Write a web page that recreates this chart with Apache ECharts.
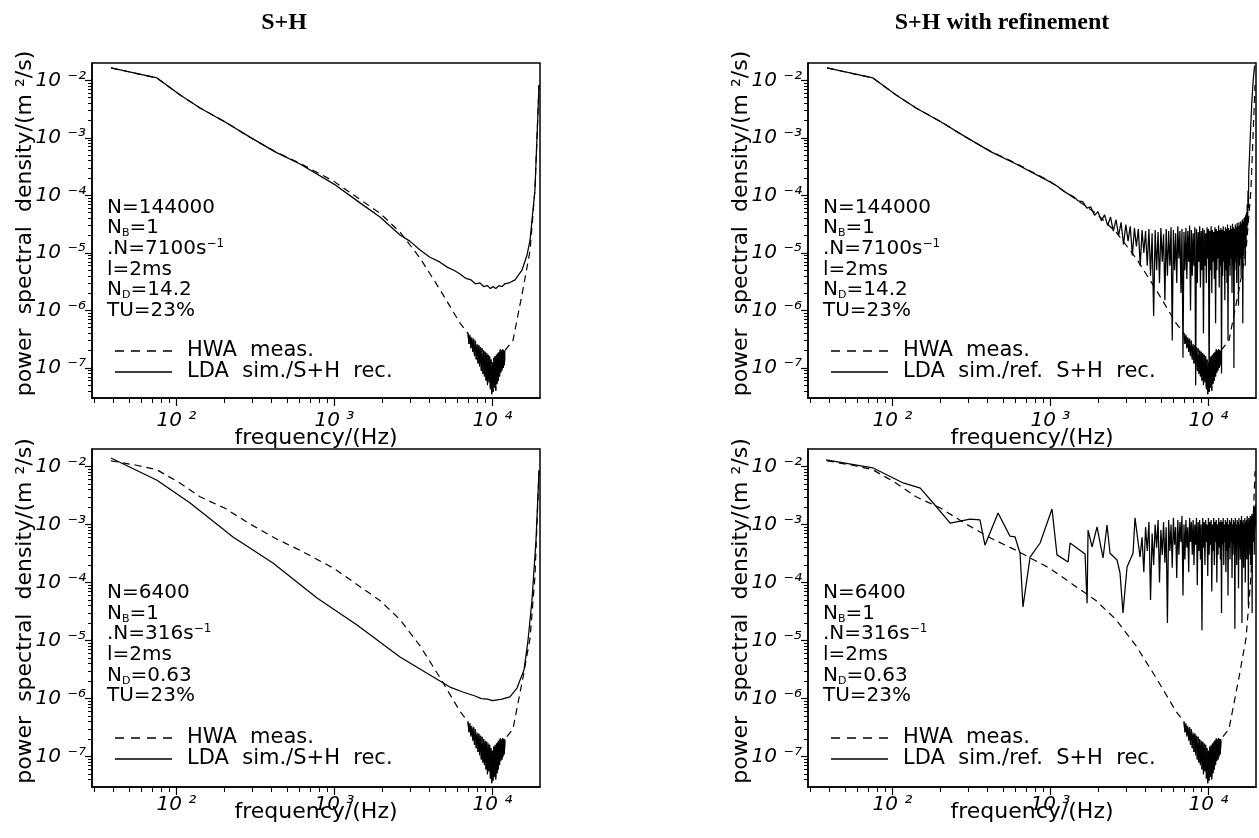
<!DOCTYPE html>
<html>
<head>
<meta charset="utf-8">
<title>S+H power spectra</title>
<script src="https://cdn.jsdelivr.net/npm/echarts@6.0.0/dist/echarts.min.js"></script>
<style>
  html, body { margin: 0; padding: 0; background: #fff; }
  #chart { width: 1259px; height: 838px; }
</style>
</head>
<body>
<div id="chart"></div>
<script>
// axis ranges (Hz, m^2/s)
var xMinHz = 29.2, xMaxHz = 20000;
var yMinPsd = 3e-8, yMaxPsd = 2e-2;
var xTickValues = [100, 1000, 10000];
var xTickLabels = ['10 ²', '10 ³', '10 ⁴'];
var yTickValues = [1e-2, 1e-3, 1e-4, 1e-5, 1e-6, 1e-7];
var yTickLabels = ['10 ⁻²', '10 ⁻³', '10 ⁻⁴', '10 ⁻⁵', '10 ⁻⁶', '10 ⁻⁷'];

// HWA measurement [Hz, m^2/s], dashed in every panel
var hwaTopStart = [[38.5, 1.64e-2], [56, 1.31e-2], [75, 1.1e-2], [105, 5.6e-3], [141, 3.3e-3], [203, 1.9e-3]];
var hwaBotStart = [[38.5, 1.25e-2], [56, 1.05e-2], [75, 8.8e-3], [105, 5.2e-3], [141, 3.0e-3], [203, 1.9e-3]];
var hwaMid = [[292, 1.02e-3], [421, 5.8e-4], [605, 3.6e-4], [993, 1.75e-4], [1452, 8.5e-5], [1941, 4.9e-5],
  [2600, 2.3e-5], [3483, 8.1e-6], [4656, 2.3e-6], [6237, 6.0e-7]];
var hwaTrough = [[7000, 4.0e-7], [7100, 2.6e-7], [7200, 3.8e-7], [7300, 2.2e-7], [7400, 3.4e-7], [7500, 1.9e-7],
  [7600, 3.2e-7], [7700, 1.6e-7], [7800, 3.0e-7], [7900, 1.4e-7], [8000, 2.6e-7], [8100, 1.2e-7], [8200, 2.5e-7],
  [8300, 1.05e-7], [8400, 2.3e-7], [8500, 8.9e-8], [8600, 2.2e-7], [8700, 7.9e-8], [8800, 2.0e-7], [8900, 7.1e-8],
  [9000, 1.9e-7], [9100, 6.0e-8], [9200, 1.8e-7], [9300, 5.0e-8], [9400, 1.7e-7], [9500, 5.6e-8], [9600, 1.6e-7],
  [9700, 4.2e-8], [9800, 1.4e-7], [9900, 3.5e-8], [10000, 1.26e-7], [10100, 3.8e-8], [10200, 1.5e-7], [10300, 4.5e-8],
  [10400, 1.6e-7], [10500, 4.0e-8], [10600, 1.7e-7], [10700, 5.2e-8], [10800, 1.8e-7], [10900, 6.0e-8], [11000, 1.9e-7],
  [11100, 7.1e-8], [11200, 2.1e-7], [11300, 8.3e-8], [11400, 2.0e-7], [11500, 8.9e-8], [11600, 2.1e-7], [11700, 1.0e-7],
  [11800, 2.0e-7], [11900, 1.1e-7], [12000, 2.0e-7]];
var hwaHigh = [[13490, 3.0e-7], [15600, 2.3e-6], [17300, 1.1e-5], [18580, 1.25e-4], [19720, 8.3e-3]];

// LDA sim. / S+H reconstruction, N=144000
var tlLda = [[38.5, 1.64e-2], [75.3, 1.1e-2], [105, 5.6e-3], [141, 3.3e-3], [203, 1.88e-3], [292, 1.03e-3],
  [421, 5.7e-4], [605, 3.5e-4], [993, 1.57e-4], [1452, 7.4e-5], [1941, 4.2e-5], [2600, 2.05e-5], [3000, 1.6e-5],
  [3483, 1.12e-5], [4000, 8.5e-6], [4656, 6.9e-6], [5200, 5.6e-6], [5700, 5.0e-6], [6237, 4.3e-6], [6800, 3.6e-6],
  [7300, 3.4e-6], [7800, 2.9e-6], [8337, 3.0e-6], [8800, 2.6e-6], [9300, 2.7e-6], [9700, 2.4e-6], [10090, 2.6e-6],
  [10500, 2.4e-6], [11000, 2.7e-6], [11500, 2.6e-6], [12000, 2.9e-6], [12700, 3.0e-6], [13900, 3.4e-6],
  [15380, 5.0e-6], [16560, 9.2e-6], [17300, 1.67e-5], [18580, 1.24e-4], [19720, 8.3e-3]];

// LDA sim. / refined S+H reconstruction, N=144000
var trLda = [[38.5, 1.64e-2], [75.3, 1.1e-2], [105, 5.6e-3], [141, 3.3e-3], [203, 1.88e-3], [292, 1.03e-3],
  [421, 5.7e-4], [605, 3.5e-4], [1000, 1.7e-4], [1100, 1.45e-4], [1200, 1.2e-4], [1300, 1.05e-4], [1400, 9.5e-5],
  [1500, 8.0e-5], [1600, 7.8e-5], [1700, 6.0e-5], [1800, 6.3e-5], [1900, 4.5e-5], [2000, 5.2e-5], [2100, 3.6e-5],
  [2200, 4.6e-5], [2300, 3.0e-5], [2400, 4.2e-5], [2500, 2.4e-5], [2600, 3.8e-5], [2700, 2.0e-5], [2800, 3.4e-5],
  [2900, 1.4e-5], [3000, 3.1e-5], [3100, 1.6e-5], [3200, 2.9e-5], [3300, 9e-6], [3400, 2.7e-5], [3500, 1.3e-5],
  [3600, 2.6e-5], [3700, 6e-6], [3800, 2.5e-5], [3900, 1.0e-5],
  [4000, 2.4e-5], [4100, 6e-6], [4200, 2.6e-5], [4300, 4e-6], [4400, 2.2e-5], [4500, 8e-7], [4600, 2.5e-5],
  [4700, 5e-6], [4800, 2.3e-5], [4900, 3e-6], [5000, 2.7e-5], [5100, 7e-6], [5200, 2.1e-5], [5300, 1.5e-6],
  [5400, 2.6e-5], [5500, 4e-6], [5600, 2.4e-5], [5700, 6e-6], [5800, 2.8e-5], [5900, 3e-7], [6000, 2.5e-5],
  [6100, 5e-6], [6200, 2.2e-5], [6300, 3e-6], [6400, 2.9e-5], [6500, 8e-6], [6600, 2.4e-5], [6700, 2e-6],
  [6800, 2.6e-5], [6900, 1.5e-7], [7000, 2.3e-5], [7100, 5e-6], [7200, 2.7e-5], [7300, 3.5e-6], [7400, 2.4e-5],
  [7500, 7e-6], [7600, 3.0e-5], [7700, 1e-6], [7800, 2.5e-5], [7900, 4e-6], [8000, 2.2e-5], [8100, 6e-6],
  [8200, 2.8e-5], [8300, 5e-8], [8400, 2.6e-5], [8500, 3e-6], [8600, 2.3e-5], [8700, 7e-6], [8800, 2.9e-5],
  [8900, 2.5e-6], [9000, 2.4e-5], [9100, 5e-6], [9200, 2.7e-5], [9300, 4e-7], [9400, 2.5e-5], [9500, 6e-6],
  [9600, 2.2e-5], [9700, 3e-6], [9800, 2.8e-5], [9900, 8e-6], [10000, 2.6e-5], [10100, 4e-8], [10200, 2.4e-5],
  [10300, 5e-6], [10400, 2.9e-5], [10500, 2e-6], [10600, 2.5e-5], [10700, 7e-6], [10800, 2.3e-5], [10900, 3.5e-6],
  [11000, 2.8e-5], [11100, 6e-7], [11200, 2.6e-5], [11300, 5e-6], [11400, 2.4e-5], [11500, 8e-6], [11600, 3.0e-5],
  [11700, 2.5e-6], [11800, 2.5e-5], [11900, 6e-6], [12000, 2.7e-5], [12100, 8e-8], [12200, 2.5e-5], [12300, 4e-6],
  [12400, 2.9e-5], [12500, 7e-6], [12600, 2.4e-5], [12700, 1.5e-6], [12800, 2.8e-5], [12900, 5e-6], [13000, 2.6e-5],
  [13100, 3e-6], [13200, 3.1e-5], [13300, 3e-7], [13400, 2.7e-5], [13500, 6e-6], [13600, 2.5e-5], [13700, 4e-6],
  [13800, 3.0e-5], [13900, 8e-6], [14000, 2.6e-5], [14100, 2e-6], [14200, 3.2e-5], [14300, 6e-6], [14400, 2.8e-5],
  [14500, 1e-7], [14600, 2.6e-5], [14700, 5e-6], [14800, 3.1e-5], [14900, 7e-6], [15000, 2.8e-5], [15100, 3e-6],
  [15200, 3.3e-5], [15300, 9e-6], [15400, 2.9e-5], [15500, 1.2e-6], [15600, 3.4e-5], [15700, 6e-6], [15800, 3.0e-5],
  [15900, 8e-6], [16000, 3.5e-5], [16100, 4e-6], [16200, 3.2e-5], [16300, 1e-5], [16400, 3.8e-5], [16500, 6e-7],
  [16600, 3.5e-5], [16700, 9e-6], [16800, 4.0e-5], [16900, 1.2e-5], [17000, 4.2e-5], [17100, 6e-6], [17200, 4.5e-5],
  [17300, 1.5e-5], [17400, 5e-5], [17500, 2e-5], [17600, 7e-5], [17700, 3e-5], [17800, 1.2e-4], [17900, 6e-5],
  [18000, 2.5e-4], [18200, 5e-4], [18500, 1.5e-3], [18800, 4e-3], [19200, 1.0e-2], [19600, 1.8e-2]];

// LDA sim. / S+H reconstruction, N=6400
var blLda = [[38.5, 1.4e-2], [75.3, 5.8e-3], [122, 2.35e-3], [228, 6.1e-4], [408, 2.17e-4], [776, 5.4e-5],
  [1390, 1.85e-5], [2600, 5.2e-6], [5380, 1.58e-6], [6500, 1.3e-6], [7760, 1.11e-6], [8500, 1.0e-6], [9300, 9.8e-7],
  [10000, 9.2e-7], [10690, 9.5e-7], [11500, 9.8e-7], [12900, 1.07e-6], [14300, 1.52e-6], [15840, 3.1e-6],
  [16800, 1.02e-5], [17800, 5.0e-5], [18870, 5.4e-4], [19720, 8.7e-3]];

// LDA sim. / refined S+H reconstruction, N=6400
var brLda = [[38, 1.3e-2], [75, 9.5e-3], [117, 5.2e-3], [150, 4.25e-3], [181, 2.35e-3], [232, 1.06e-3], [310, 1.24e-3],
  [358, 1.2e-3], [385, 4.4e-4], [466, 1.58e-3], [554, 6.3e-4], [597, 6.1e-4], [642, 3.2e-4], [670, 3.8e-5],
  [743, 2.75e-4], [860, 4.8e-4], [1023, 1.85e-3], [1100, 3.0e-4], [1293, 2.26e-4], [1331, 4.8e-4], [1656, 3.1e-4],
  [1706, 4.4e-5], [1730, 8.0e-4], [1833, 4.1e-4], [1972, 9.1e-4], [2152, 2.65e-4], [2281, 9.8e-4], [2383, 3.2e-4],
  [2638, 2.45e-4], [2756, 1.46e-4], [2878, 3.0e-5], [3053, 1.85e-4], [3332, 3.2e-4], [3430, 1.3e-3], [3690, 2.75e-4],
  [3800, 6.0e-4], [3900, 1.5e-4], [4000, 9.0e-4], [4100, 3.5e-4], [4200, 1.1e-3], [4300, 5.0e-5], [4400, 7.0e-4],
  [4500, 2.0e-4], [4600, 1.0e-3], [4700, 4.0e-4], [4800, 1.2e-3], [4900, 1.0e-4], [5000, 8.0e-4], [5100, 3.0e-4],
  [5200, 1.1e-3], [5300, 2.2e-4], [5400, 9.0e-4], [5500, 2.0e-5], [5600, 1.2e-3], [5700, 3.5e-4], [5800, 1.0e-3],
  [5900, 1.8e-4], [6000, 1.3e-3], [6100, 4.5e-4], [6200, 9.0e-4], [6300, 1.2e-4], [6400, 1.2e-3], [6500, 3.0e-4],
  [6600, 1.1e-3], [6700, 5.0e-4], [6800, 1.4e-3], [6900, 6.0e-5], [7000, 1.0e-3], [7100, 2.5e-4], [7200, 1.2e-3],
  [7300, 4.0e-4], [7400, 9.0e-4], [7500, 1.5e-4], [7600, 1.3e-3], [7700, 5.0e-4], [7800, 1.1e-3], [7900, 3.0e-4],
  [8000, 1.2e-3], [8100, 2.0e-4], [8200, 1.0e-3], [8300, 4.5e-4], [8400, 1.3e-3], [8500, 9.0e-5], [8600, 1.1e-3],
  [8700, 3.5e-4], [8800, 1.2e-3], [8900, 2.5e-4], [9000, 1.0e-3], [9100, 1.5e-5], [9200, 1.3e-3], [9300, 4.0e-4],
  [9400, 1.1e-3], [9500, 2.0e-4], [9600, 1.2e-3], [9700, 5.0e-4], [9800, 1.0e-3], [9900, 1.3e-4], [10000, 1.3e-3],
  [10100, 3.0e-4], [10200, 1.1e-3], [10300, 4.5e-4], [10400, 1.2e-3], [10500, 7.0e-5], [10600, 1.0e-3], [10700, 3.5e-4],
  [10800, 1.3e-3], [10900, 2.0e-4], [11000, 1.1e-3], [11100, 5.0e-4], [11200, 1.2e-3], [11300, 1.0e-4], [11400, 1.0e-3],
  [11500, 3.0e-4], [11600, 1.3e-3], [11700, 4.0e-4], [11800, 1.1e-3], [11900, 2.5e-4], [12000, 1.2e-3], [12100, 3.0e-5],
  [12200, 1.1e-3], [12300, 4.5e-4], [12400, 1.3e-3], [12500, 2.0e-4], [12600, 1.0e-3], [12700, 5.0e-4], [12800, 1.2e-3],
  [12900, 1.5e-4], [13000, 1.1e-3], [13100, 3.5e-4], [13200, 1.3e-3], [13300, 6.0e-5], [13400, 1.0e-3], [13500, 4.0e-4],
  [13600, 1.2e-3], [13700, 2.5e-4], [13800, 1.1e-3], [13900, 5.0e-4], [14000, 1.3e-3], [14100, 1.2e-4], [14200, 1.0e-3],
  [14300, 3.0e-4], [14400, 1.2e-3], [14500, 4.5e-4], [14600, 1.1e-3], [14700, 1.6e-5], [14800, 1.3e-3], [14900, 3.5e-4],
  [15000, 1.0e-3], [15100, 2.0e-4], [15200, 1.2e-3], [15300, 5.0e-4], [15400, 1.1e-3], [15500, 8.0e-5], [15600, 1.3e-3],
  [15700, 4.0e-4], [15800, 1.0e-3], [15900, 2.5e-4], [16000, 1.2e-3], [16100, 5.0e-4], [16200, 1.4e-3], [16300, 2.0e-5],
  [16400, 1.1e-3], [16500, 3.5e-4], [16600, 1.2e-3], [16700, 1.8e-4], [16800, 1.0e-3], [16900, 4.5e-4], [17000, 1.3e-3],
  [17100, 1.0e-4], [17200, 1.1e-3], [17300, 4.0e-4], [17400, 1.2e-3], [17500, 2.5e-4], [17600, 1.4e-3], [17700, 5.0e-4],
  [17800, 1.1e-3], [17900, 4.0e-5], [18000, 1.3e-3], [18100, 3.0e-4], [18200, 1.2e-3], [18300, 5.0e-4], [18400, 1.4e-3],
  [18500, 2.0e-4], [18600, 1.3e-3], [18700, 6.0e-4], [18800, 1.5e-3], [18900, 3.0e-5], [19000, 1.4e-3], [19100, 5.0e-4],
  [19200, 1.6e-3], [19300, 7.0e-4], [19400, 1.8e-3], [19500, 3.0e-4], [19600, 2.0e-3], [19700, 8.0e-4], [19800, 2.2e-3],
  [19900, 1.0e-3]];

// side notes (rich text: t normal, s subscript, p superscript)
var notesTop = ['{t|N=144000}', '{t|N}{s|B}{t|=1}', '{t|.N=7100s}{p|−1}', '{t|l=2ms}', '{t|N}{s|D}{t|=14.2}', '{t|TU=23%}'];
var notesBottom = ['{t|N=6400}', '{t|N}{s|B}{t|=1}', '{t|.N=316s}{p|−1}', '{t|l=2ms}', '{t|N}{s|D}{t|=0.63}', '{t|TU=23%}'];
var hwaName = 'HWA meas.';
var ldaName = 'LDA sim./S+H rec.';
var ldaRefName = 'LDA sim./ref. S+H rec.';

var SANS = "'DejaVu Sans', sans-serif";
var X0 = Math.log10(xMinHz), X1 = Math.log10(xMaxHz);
var Y0 = Math.log10(yMinPsd), Y1 = Math.log10(yMaxPsd);

function toLog(pts) {
  return pts.map(function (d) { return [Math.log10(d[0]), Math.log10(d[1])]; });
}
function logTicks(lo, hi) {
  var out = [];
  for (var e = -9; e <= 5; e++) {
    for (var k = 1; k <= 9; k++) {
      var v = k * Math.pow(10, e);
      if (v > lo * 1.001 && v < hi * 0.999) out.push(Math.log10(v));
    }
  }
  return out;
}
function labelFor(values, labels) {
  return function (val) {
    for (var i = 0; i < values.length; i++) {
      if (Math.abs(Math.log10(values[i]) - val) < 1e-6) return labels[i];
    }
    return '';
  };
}

var xMajor = xTickValues.map(Math.log10);
var yMajor = yTickValues.map(Math.log10);
var xAll = logTicks(xMinHz, xMaxHz);
var yAll = logTicks(yMinPsd, yMaxPsd);

// legend samples, drawn in a 57x20 box
var iconSolid = 'path://M0,0h0.01v0.01h-0.01zM0,9.35h57v1.3h-57zM56.99,19.99h0.01v0.01h-0.01z';
var iconDashed = 'path://M0,0h0.01v0.01h-0.01zM0,9.35h9v1.3h-9zM16,9.35h9v1.3h-9zM32,9.35h9v1.3h-9zM48,9.35h9v1.3h-9zM56.99,19.99h0.01v0.01h-0.01z';

var hwaTop = toLog(hwaTopStart.concat(hwaMid, hwaTrough, hwaHigh));
var hwaBot = toLog(hwaBotStart.concat(hwaMid, hwaTrough, hwaHigh));
var hwaDense = toLog(hwaTrough);

var panels = [
  { left: 92, top: 63, height: 335, hwa: hwaTop, lda: toLog(tlLda), name: ldaName, notes: notesTop, noteY: 207.5,
    legendTop: 340.5, labelMargin: 13, nameGap: 29 },
  { left: 808, top: 63, height: 335, hwa: hwaTop, lda: toLog(trLda), name: ldaRefName, notes: notesTop, noteY: 207.5,
    legendTop: 340.5, labelMargin: 13, nameGap: 29 },
  { left: 92, top: 449, height: 338, hwa: hwaBot, lda: toLog(blLda), name: ldaName, notes: notesBottom, noteY: 593,
    legendTop: 727.5, labelMargin: 8, nameGap: 14 },
  { left: 808, top: 449, height: 338, hwa: hwaBot, lda: toLog(brLda), name: ldaRefName, notes: notesBottom, noteY: 593,
    legendTop: 727.5, labelMargin: 8, nameGap: 14 }
];

var grid = [], xAxis = [], yAxis = [], series = [], legend = [], graphic = [];
panels.forEach(function (p, i) {
  grid.push({ left: p.left, top: p.top, width: 448, height: p.height, show: true,
    borderColor: '#000', borderWidth: 1.5, backgroundColor: 'transparent',
    containLabel: false, outerBoundsMode: 'none' });
  // every log tick
  xAxis.push({ type: 'value', gridIndex: i, min: X0, max: X1, position: 'bottom',
    axisLine: { show: true, onZero: false, lineStyle: { color: '#000', width: 1.5 } },
    axisTick: { show: true, length: 5, customValues: xAll, lineStyle: { color: '#000', width: 1 } },
    axisLabel: { show: false }, splitLine: { show: false } });
  // decades, labels and name
  xAxis.push({ type: 'value', gridIndex: i, min: X0, max: X1, position: 'bottom',
    axisLine: { show: false },
    axisTick: { show: true, length: 8, customValues: xMajor, lineStyle: { color: '#000', width: 1.2 } },
    axisLabel: { show: true, customValues: xMajor, formatter: labelFor(xTickValues, xTickLabels),
      margin: p.labelMargin, color: '#000', fontFamily: SANS, fontStyle: 'italic', fontSize: 20 },
    splitLine: { show: false },
    name: 'frequency/(Hz)', nameLocation: 'middle', nameGap: p.nameGap, nameMoveOverlap: false,
    nameTextStyle: { color: '#000', fontFamily: SANS, fontSize: 22, verticalAlign: 'top' } });
  yAxis.push({ type: 'value', gridIndex: i, min: Y0, max: Y1, position: 'left',
    axisLine: { show: true, onZero: false, lineStyle: { color: '#000', width: 1.5 } },
    axisTick: { show: true, length: 4, customValues: yAll, lineStyle: { color: '#000', width: 1 } },
    axisLabel: { show: false }, splitLine: { show: false } });
  yAxis.push({ type: 'value', gridIndex: i, min: Y0, max: Y1, position: 'left',
    axisLine: { show: false },
    axisTick: { show: true, length: 7, customValues: yMajor, lineStyle: { color: '#000', width: 1.2 } },
    axisLabel: { show: true, customValues: yMajor, formatter: labelFor(yTickValues, yTickLabels),
      margin: 6, color: '#000', fontFamily: SANS, fontStyle: 'italic', fontSize: 20 },
    splitLine: { show: false },
    name: '  power  spectral  density/(m ²/s)', nameLocation: 'middle', nameGap: 56, nameMoveOverlap: false,
    nameTextStyle: { color: '#000', fontFamily: SANS, fontSize: 22 } });

  series.push({ type: 'line', name: hwaName, xAxisIndex: 2 * i, yAxisIndex: 2 * i, data: p.hwa,
    symbol: 'none', showSymbol: false, silent: true, z: 3,
    lineStyle: { color: '#000', width: 1.2, type: [7, 5] }, itemStyle: { color: '#000' } });
  // the dense trough of the HWA spectrum reads as a solid black band
  series.push({ type: 'line', name: hwaName, xAxisIndex: 2 * i, yAxisIndex: 2 * i, data: hwaDense,
    symbol: 'none', showSymbol: false, silent: true, z: 3,
    lineStyle: { color: '#000', width: 1.1, type: 'solid' }, itemStyle: { color: '#000' } });
  series.push({ type: 'line', name: p.name, xAxisIndex: 2 * i, yAxisIndex: 2 * i, data: p.lda,
    symbol: 'none', showSymbol: false, silent: true, z: 4,
    lineStyle: { color: '#000', width: 1.25, type: 'solid' }, itemStyle: { color: '#000' } });

  legend.push({ left: p.left + 23, top: p.legendTop, orient: 'vertical', padding: 0,
    data: [{ name: hwaName, icon: iconDashed }, { name: p.name, icon: iconSolid }],
    itemWidth: 57, itemHeight: 20, itemGap: 0, selectedMode: false,
    formatter: function (n) { return n.replace(/ /g, '  '); },
    textStyle: { color: '#000', fontFamily: SANS, fontSize: 21, lineHeight: 20, padding: [0, 0, 0, 10] } });

  p.notes.forEach(function (t, k) {
    graphic.push({ type: 'text', x: p.left + 15, y: p.noteY + k * 20.6, silent: true,
      style: { text: t, fill: '#000', verticalAlign: 'middle',
        rich: {
          t: { fontFamily: SANS, fontSize: 20, lineHeight: 22, color: '#000' },
          s: { fontFamily: SANS, fontSize: 11, lineHeight: 11, verticalAlign: 'bottom', color: '#000' },
          p: { fontFamily: SANS, fontSize: 12, lineHeight: 6, verticalAlign: 'top', color: '#000' }
        } } });
  });
});

var chart = echarts.init(document.getElementById('chart'), null, { renderer: 'canvas' });
chart.setOption({
  backgroundColor: '#fff',
  animation: false,
  title: [
    { text: 'S+H', left: 279, top: 6, textAlign: 'center',
      textStyle: { fontFamily: "'Liberation Serif', serif", fontWeight: 'bold', fontSize: 24, color: '#000' } },
    { text: 'S+H with refinement', left: 997, top: 6, textAlign: 'center',
      textStyle: { fontFamily: "'Liberation Serif', serif", fontWeight: 'bold', fontSize: 24, color: '#000' } }
  ],
  grid: grid,
  xAxis: xAxis,
  yAxis: yAxis,
  legend: legend,
  series: series,
  graphic: graphic
});
</script>
</body>
</html>
